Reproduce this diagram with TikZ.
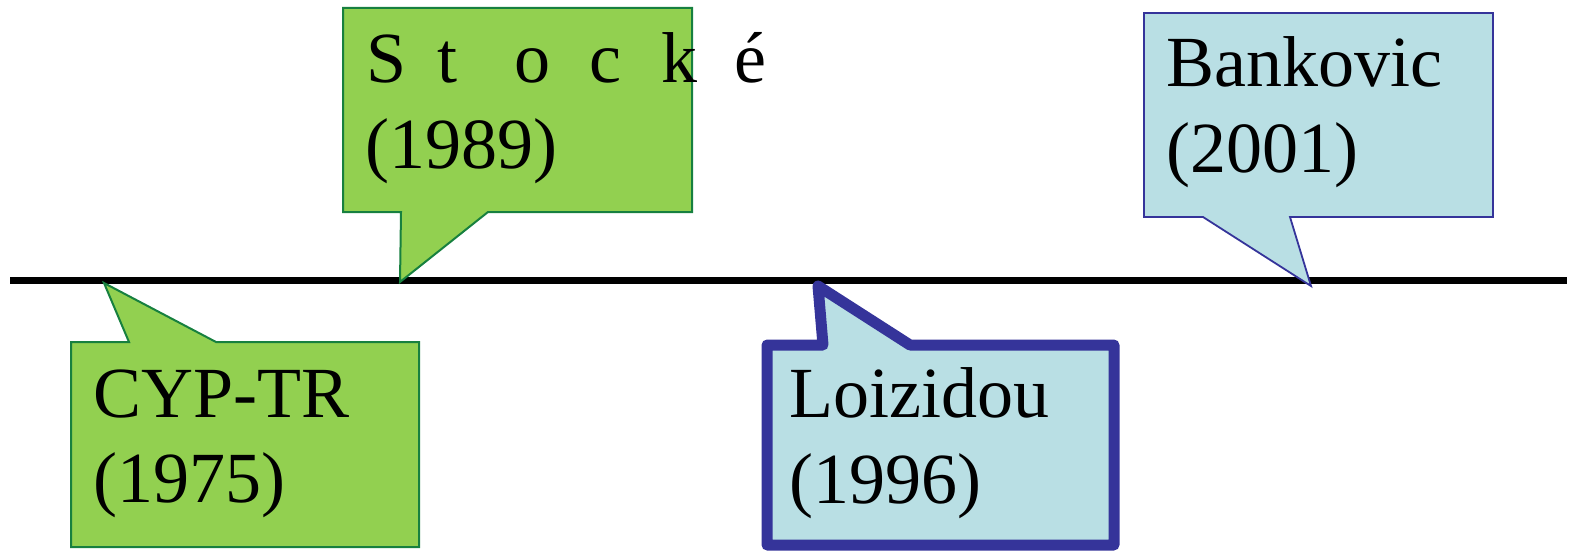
\documentclass[tikz,border=0pt]{standalone}
\usepackage{fontspec}
\setmainfont{Liberation Serif}
\definecolor{leafgreen}{HTML}{92D050}
\definecolor{leafedge}{HTML}{17803F}
\definecolor{paleblue}{HTML}{B9DFE4}
\definecolor{inkblue}{HTML}{35349A}
\begin{document}
\begin{tikzpicture}[x=1pt,y=-1pt,
  lbl/.style={anchor=base west, inner sep=0pt, font=\fontsize{72}{86}\selectfont},
  greencall/.style={fill=leafgreen, draw=leafedge, line width=2pt, line join=miter},
  bluecall/.style={fill=paleblue, draw=inkblue, line width=1.8pt, line join=miter},
  boldcall/.style={fill=paleblue, draw=inkblue, line width=11pt, line join=round},
  axisline/.style={line width=7pt}]
\useasboundingbox (0,0) rectangle (1569,551);

% the time axis
\coordinate (axisL) at (10,280);
\coordinate (axisR) at (1567,280);
\draw[axisline] (axisL) -- (axisR);

% points on the axis the callouts point to
\coordinate (y75) at (104,283);
\coordinate (y89) at (400,282);
\coordinate (y96) at (818,286);
\coordinate (y01) at (1311,286);

% callouts above the axis
\draw[greencall] (343,8) -- (692,8) -- (692,212) -- (488,212) -- (y89)
  -- (401,212) -- (343,212) -- cycle;
\draw[bluecall] (1144,13) -- (1493,13) -- (1493,217) -- (1290,217) -- (y01)
  -- (1203,217) -- (1144,217) -- cycle;

% callouts below the axis
\draw[greencall] (71,342) -- (129,342) -- (y75) -- (216,342) -- (419,342)
  -- (419,547) -- (71,547) -- cycle;
\draw[boldcall] (767,345) -- (823,345) -- (y96) -- (910,345) -- (1114,345)
  -- (1114,545) -- (767,545) -- cycle;

% labels
\node[lbl] (stocke) at (366,82)
  {\makebox[71pt][l]{S}\makebox[77pt][l]{t}\makebox[75pt][l]{o}\makebox[72pt][l]{c}\makebox[73pt][l]{k}é};
\node[lbl] (stockeYr) at (365,168) {(1989)};
\node[lbl] (bank) at (1166,87) {Bankovic};
\node[lbl] (bankYr) at (1166,172) {(2001)};
\node[lbl] (cyp) at (93,417) {CYP-TR};
\node[lbl] (cypYr) at (93,502) {(1975)};
\node[lbl] (loiz) at (789,417) {Loizidou};
\node[lbl] (loizYr) at (789,503) {(1996)};
\end{tikzpicture}
\end{document}
